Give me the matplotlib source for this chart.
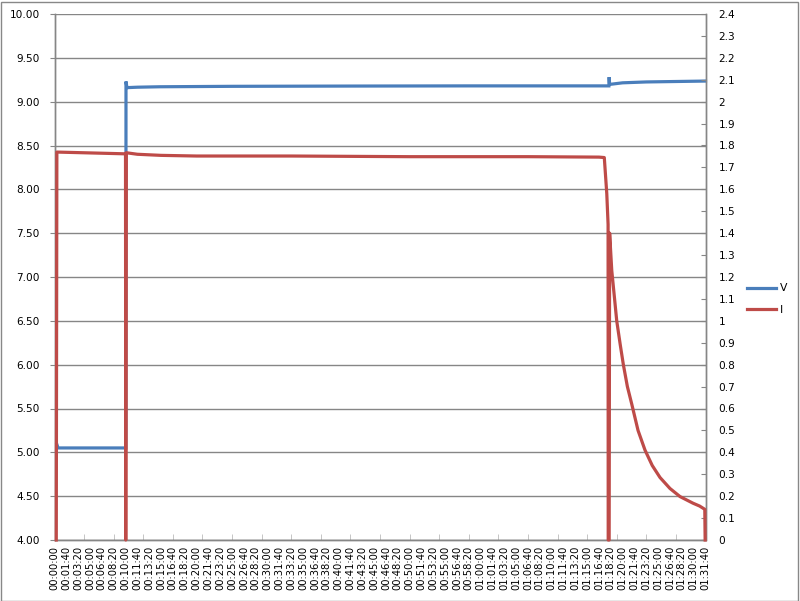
import matplotlib
matplotlib.use("Agg")
import matplotlib.pyplot as plt
from matplotlib.ticker import MultipleLocator, FuncFormatter
from matplotlib.lines import Line2D
from matplotlib.patches import Rectangle

plt.rcParams['font.family'] = ['DejaVu Sans']

# ---- data (time in seconds) ----
v_time = [20, 30, 603, 604, 612, 700, 890, 1500, 2500, 3500, 4600, 4684, 4686, 4690, 4800, 5000, 5500]
v_values = [5.09, 5.05, 5.05, 9.23, 9.16, 9.165, 9.17, 9.175, 9.178, 9.18, 9.18, 9.18, 9.28, 9.197, 9.215, 9.225, 9.235]

i_time = [15, 20, 600, 602, 606, 700, 900, 1200, 2000, 3000, 4000, 4600, 4645, 4666, 4677, 4678, 4686, 4690,
          4708, 4730, 4750, 4780, 4806, 4840, 4877, 4930, 4989, 5050, 5116, 5200, 5285, 5394, 5450, 5494, 5497]
i_values = [0, 1.77, 1.762, 0, 1.767, 1.760, 1.755, 1.752, 1.752, 1.749, 1.749, 1.747, 1.745, 1.58, 1.44, 0, 0, 1.40,
            1.23, 1.11, 1.00, 0.89, 0.80, 0.70, 0.62, 0.50, 0.41, 0.34, 0.285, 0.235, 0.198, 0.168, 0.155, 0.14, 0]

series_names = ["V", "I"]
colors = ["#4A7EBB", "#BE4B48"]
grid_color = "#868686"


def fmt_time(t, pos=None):
    t = int(round(t))
    return f"{t // 3600:02d}:{(t % 3600) // 60:02d}:{t % 60:02d}"


fig = plt.figure(figsize=(8, 6.01), dpi=100)
ax = fig.add_axes([54.5 / 800, 1 - 540 / 601, 651 / 800, 526 / 601])
ax2 = ax.twinx()

ax.plot(v_time, v_values, color=colors[0], lw=2.3, solid_joinstyle='miter', clip_on=False, zorder=3)
ax2.plot(i_time, i_values, color=colors[1], lw=2.3, solid_joinstyle='round', clip_on=False, zorder=3)

ax.set_xlim(0, 5500)
ax.set_ylim(4, 10)
ax2.set_ylim(0, 2.4)

# left axis
ax.yaxis.set_major_locator(MultipleLocator(0.5))
ax.yaxis.set_major_formatter(FuncFormatter(lambda v, p: f"{v:.2f}"))
ax.grid(axis='y', color=grid_color, lw=1)
ax.set_axisbelow(True)
ax.tick_params(axis='y', direction='out', length=3.5, color=grid_color, labelsize=7.6, pad=7, labelcolor='black')

# right axis
ax2.yaxis.set_major_locator(MultipleLocator(0.1))
ax2.yaxis.set_major_formatter(FuncFormatter(lambda v, p: f"{round(v, 1):g}"))
ax2.tick_params(axis='y', direction='in', length=3.5, color=grid_color, labelsize=7.6, pad=9.5, labelcolor='black')

# x axis
ax.xaxis.set_major_locator(MultipleLocator(100))
ax.xaxis.set_major_formatter(FuncFormatter(fmt_time))
ax.xaxis.set_minor_locator(MultipleLocator(250))
ax.xaxis.remove_overlapping_locs = False
ax.tick_params(axis='x', which='major', length=0, labelsize=7.2, pad=4, labelrotation=90, labelcolor='black')
ax.tick_params(axis='x', which='minor', direction='in', length=4, color="#BBBBBB")
for lab in ax.get_xticklabels():
    lab.set_verticalalignment('top')
    lab.set_horizontalalignment('center')

for a in (ax, ax2):
    for s in a.spines.values():
        s.set_color(grid_color)
        s.set_linewidth(1)
    a.spines['top'].set_visible(False)

handles = [Line2D([], [], color=c, lw=2.3) for c in colors]
fig.legend(handles, series_names, loc='center left', bbox_to_anchor=(747 / 800, 1 - 299 / 601),
           frameon=False, fontsize=7.8, handlelength=2.7, handletextpad=0.3, labelspacing=1.05,
           borderaxespad=0, borderpad=0)

fig.add_artist(Rectangle((0.5 / 800, 0.5 / 601), 797 / 800, 599 / 601, transform=fig.transFigure,
                         fill=False, edgecolor="#888888", lw=1))

fig.savefig("out.png", dpi=100)
